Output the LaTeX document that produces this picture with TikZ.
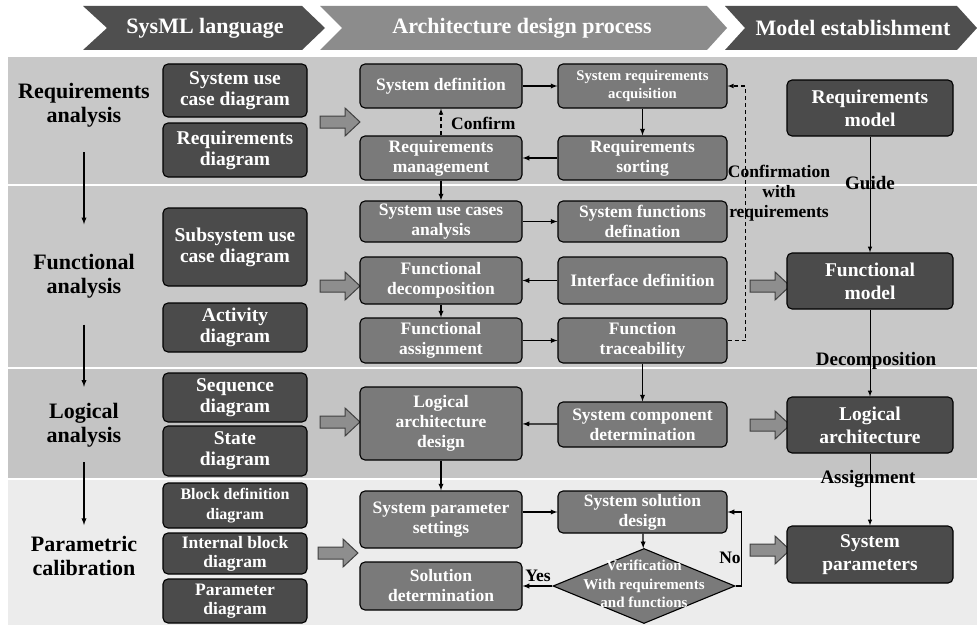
\documentclass[tikz,border=0pt]{standalone}
\usepackage{fontspec}
\setmainfont{Liberation Serif}
\usetikzlibrary{shapes.geometric}

\definecolor{darkbox}{HTML}{4B4B4B}
\definecolor{midbox}{HTML}{7A7A7A}
\definecolor{bandA}{HTML}{C8C8C8}
\definecolor{bandB}{HTML}{C4C4C4}
\definecolor{bandC}{HTML}{ECECEC}
\definecolor{chevdark}{HTML}{4F4F4F}
\definecolor{chevmid}{HTML}{8C8C8C}
\definecolor{fatgray}{HTML}{8E8E8E}

\tikzset{
  box/.style={draw=black, line width=1.1pt, rounded corners=5pt, text=white, align=center, inner sep=1pt},
  langbox/.style={box, fill=darkbox, minimum width=144pt, font=\fontsize{19.5}{21}\selectfont\bfseries},
  procbox/.style={box, fill=midbox, font=\fontsize{17.5}{20}\selectfont\bfseries},
  leftproc/.style={procbox, minimum width=162pt},
  rightproc/.style={procbox, minimum width=169pt},
  modelbox/.style={box, fill=darkbox, minimum width=166pt, font=\fontsize{19.5}{23}\selectfont\bfseries},
  phase/.style={font=\fontsize{22}{24}\selectfont\bfseries, align=center, inner sep=0pt},
  headtext/.style={text=white, font=\fontsize{22}{24}\selectfont\bfseries},
  tag/.style={font=\fontsize{17.5}{20}\selectfont\bfseries, align=center, inner sep=0pt},
  flow/.style={-latex, line width=1.3pt},
  confirmline/.style={-latex, line width=1.1pt, dash pattern=on 4pt off 3pt},
  fatarrow/.style={draw=black!75, line width=1pt, fill=fatgray}
}

\begin{document}
\begin{tikzpicture}[x=1pt, y=-1pt]
  \useasboundingbox (0,0) rectangle (977,626);
  \fill[white] (0,0) rectangle (977,626);

  % header chevrons
  \fill[chevdark] (83,6) -- (302,6) -- (325,28) -- (302,50) -- (83,50) -- (107,28) -- cycle;
  \fill[chevmid] (320,6) -- (707,6) -- (727,28) -- (707,50) -- (320,50) -- (342,28) -- cycle;
  \fill[chevdark] (725,6) -- (957,6) -- (977,28) -- (957,50) -- (725,50) -- (745,28) -- cycle;
  \node[headtext] (hdlang) at (205,28) {SysML language};
  \node[headtext] (hdproc) at (522,28) {Architecture design process};
  \node[headtext] (hdmodel) at (853,28) {Model establishment};

  % bands
  \fill[bandA] (8,57) rectangle (977,184);
  \fill[bandA] (8,186) rectangle (977,367);
  \fill[bandB] (8,369) rectangle (977,478);
  \fill[bandC] (8,480) rectangle (977,625);

  % phases
  \node[phase] (ph1) at (84,105) {Requirements\\analysis};
  \node[phase] (ph2) at (84,276.5) {Functional\\analysis};
  \node[phase] (ph3) at (84,425) {Logical\\analysis};
  \node[phase] (ph4) at (84,556) {Parametric\\calibration};
  \draw[flow, shorten <=25pt, shorten >=30pt] (ph1) -- (ph2);
  \draw[flow, shorten <=26pt, shorten >=16pt] (ph2) -- (ph3);
  \draw[flow, shorten <=15pt, shorten >=11pt] (ph3) -- (ph4);

  % SysML diagrams
  \node[langbox, minimum height=53pt] (suc) at (235,90.5) {System use\\case diagram};
  \node[langbox, minimum height=54pt] (reqd) at (235,150) {Requirements\\diagram};
  \node[langbox, minimum height=78pt] (subuc) at (235,247) {Subsystem use\\case diagram};
  \node[langbox, minimum height=49pt] (actd) at (235,327.5) {Activity\\diagram};
  \node[langbox, minimum height=49pt] (seqd) at (235,397.5) {Sequence\\diagram};
  \node[langbox, minimum height=50pt] (stated) at (235,451) {State\\diagram};
  \node[langbox, minimum height=45pt, font=\fontsize{16}{20}\selectfont\bfseries] (bdd) at (235,505.5) {Block definition\\diagram};
  \node[langbox, minimum height=41pt, font=\fontsize{17.5}{19}\selectfont\bfseries] (ibd) at (235,553.5) {Internal block\\diagram};
  \node[langbox, minimum height=44pt, font=\fontsize{17.5}{19}\selectfont\bfseries] (pard) at (235,601) {Parameter\\diagram};

  % fat arrows
  \foreach \ax/\ay in {320/122, 320/286, 320/422, 318/553, 750/286, 750/425, 750/550}
    \draw[fatarrow] (\ax,\ay-6) -- ++(25,0) -- ++(0,-8) -- (\ax+40,\ay) -- (\ax+25,\ay+14) -- ++(0,-8) -- (\ax,\ay+6) -- cycle;

  % architecture design process
  \node[leftproc, minimum height=44pt] (sysdef) at (441,86) {System definition};
  \node[rightproc, minimum height=44pt, font=\fontsize{14.7}{18}\selectfont\bfseries] (sra) at (642.5,86) {System requirements\\acquisition};
  \node[leftproc, minimum height=44pt] (reqm) at (441,158) {Requirements\\management};
  \node[rightproc, minimum height=44pt] (reqs) at (642.5,158) {Requirements\\sorting};
  \node[leftproc, minimum height=41pt] (ucana) at (441,221.5) {System use cases\\analysis};
  \node[rightproc, minimum height=41pt] (sfdef) at (642.5,221.5) {System functions\\defination};
  \node[leftproc, minimum height=47pt] (fdec) at (441,280.5) {Functional\\decomposition};
  \node[rightproc, minimum height=47pt] (ifdef) at (642.5,280.5) {Interface definition};
  \node[leftproc, minimum height=45pt] (fass) at (441,340.5) {Functional\\assignment};
  \node[rightproc, minimum height=45pt] (ftrace) at (642.5,340.5) {Function\\traceability};
  \node[leftproc, minimum height=73pt] (lad) at (441,423.5) {Logical\\architecture\\design};
  \node[rightproc, minimum height=45pt] (scdet) at (642.5,424.5) {System component\\determination};
  \node[leftproc, minimum height=57pt] (sps) at (441,519.5) {System parameter\\settings};
  \node[rightproc, minimum height=42pt] (ssd) at (642.5,512) {System solution\\design};
  \node[leftproc, minimum height=48pt] (sdet) at (441,586) {Solution\\determination};
  \node[diamond, draw=black, line width=1.1pt, fill=midbox, minimum width=182pt, minimum height=75pt, inner sep=0pt] (verif) at (644,586) {};
  \node[text=white, align=center, font=\fontsize{15}{18.5}\selectfont\bfseries] (veriftext) at (644,584) {Verification\\With requirements\\and functions};

  \draw[flow] (sysdef) -- (sra);
  \draw[flow] (sra) -- (reqs);
  \draw[flow] (reqs) -- (reqm);
  \draw[confirmline] (reqm) -- (sysdef);
  \node[tag, anchor=west] (confirm) at (451,123) {Confirm};
  \draw[flow] (reqm) -- (ucana);
  \draw[flow] (ucana) -- (sfdef);
  \draw[flow] (ifdef) -- (fdec);
  \draw[flow] (fdec) -- (fass);
  \draw[flow] (fass) -- (ftrace);
  \draw[confirmline] (ftrace.east) -- ++(18,0) |- (sra.east);
  \node[tag] (confwith) at (779,193) {Confirmation\\with\\requirements};
  \draw[flow] (ftrace) -- (scdet);
  \draw[flow] (scdet) -- (lad);
  \draw[flow] (lad) -- (sps);
  \draw[flow] (ssd.west -| sps.east) -- (ssd.west);
  \draw[flow] (ssd) -- (verif);
  \draw[flow] (verif.west) -- (sdet.east |- verif.west);
  \node[tag] (yes) at (538,576) {Yes};
  \draw[flow] (verif.east) -- ++(6,0) |- (ssd.east);
  \node[tag] (no) at (730,558) {No};

  % models
  \node[modelbox, minimum height=56pt] (reqmodel) at (870,108) {Requirements\\model};
  \node[modelbox, minimum height=56pt] (funmodel) at (870,281) {Functional\\model};
  \node[modelbox, minimum height=56pt] (logarch) at (870,425) {Logical\\architecture};
  \node[modelbox, minimum height=57pt] (syspar) at (870,554.5) {System\\parameters};
  \draw[flow, line width=1pt] (reqmodel) -- (funmodel);
  \draw[flow, line width=1pt] (funmodel) -- (logarch);
  \draw[flow, line width=1pt] (logarch) -- (syspar);
  \node[tag, font=\fontsize{19}{20}\selectfont\bfseries] (guide) at (870,183) {Guide};
  \node[tag, font=\fontsize{19}{20}\selectfont\bfseries] (decomp) at (876,361) {Decomposition};
  \node[tag, font=\fontsize{19}{20}\selectfont\bfseries] (assign) at (868,479) {Assignment};
\end{tikzpicture}
\end{document}
